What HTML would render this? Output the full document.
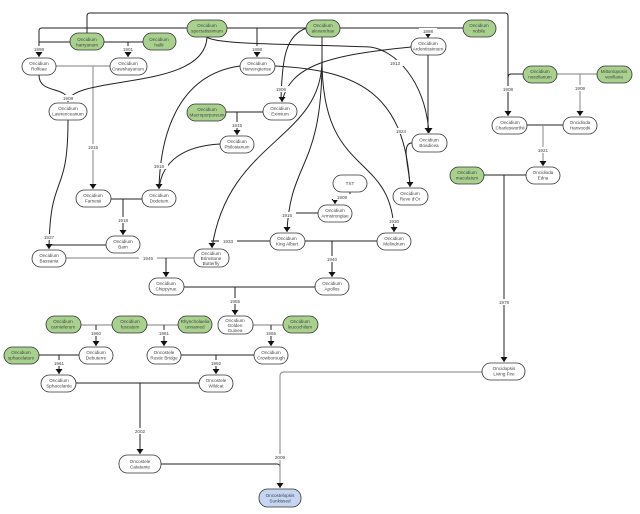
<!DOCTYPE html>
<html><head><meta charset="utf-8"><style>
html,body{margin:0;padding:0;background:#fff;}
svg{display:block;}
text{font-family:"Liberation Sans",sans-serif;font-size:4.6px;fill:#444;text-anchor:middle;}
.l{fill:none;stroke:#222;stroke-width:1;}
.g{fill:none;stroke:#999;stroke-width:1.2;}
.lab{font-size:4.6px;}
</style></head><body>
<svg width="640" height="514" viewBox="0 0 640 514" xmlns="http://www.w3.org/2000/svg">
<defs><marker id="a" markerWidth="6" markerHeight="6" refX="3" refY="5" orient="auto-start-reverse" markerUnits="userSpaceOnUse" viewBox="0 0 6 6"><path d="M0,0 L6,0 L3,6z" fill="#111" transform="rotate(0)"/></marker>
<marker id="b" markerWidth="7" markerHeight="7" refX="3.5" refY="6" orient="0" markerUnits="userSpaceOnUse"><path d="M0,1 L7,1 L3.5,6z" fill="#111"/></marker></defs>

<!-- connectors -->
<g>
<path class="l" d="M87,33 V16 Q87,13 90,13 H505 Q508,13 508,16 V116" marker-end="url(#b)"/>
<path class="l" d="M523,74 H511 Q508,74 508,78"/>
<path class="l" d="M187,28 H42 Q39,28 39,31 V57" marker-end="url(#b)"/>
<path class="l" d="M70,42 H39"/>
<path class="l" d="M104,42 H143 M128,42 V57" marker-end="url(#b)"/>
<path class="g" d="M56,66 H110 M93,66 V189" marker-end="url(#b)"/>
<path class="l" d="M39,75 C39,95 68,85 68,102" marker-end="url(#b)"/>
<path class="l" d="M207,37 C205,90 80,75 68,100"/>
<path class="l" d="M227,28 H307 M257,28 V57" marker-end="url(#b)"/>
<path class="l" d="M207,37 C215,45 300,44 370,47 C395,50 425,80 429,133" marker-end="url(#b)"/>
<path class="l" d="M340,28 H463 M428,28 V38" marker-end="url(#b)"/>
<path class="l" d="M428,55 V133" marker-end="url(#b)"/>
<path class="l" d="M411,47 C330,55 290,65 282,102" marker-end="url(#b)"/>
<path class="l" d="M307,28 C285,35 282,60 281,100"/>
<path class="l" d="M275,66 C360,70 405,95 410,187" marker-end="url(#b)"/>
<path class="l" d="M412,143 C400,143 410,170 410,187"/>
<path class="l" d="M322,37 V75"/>
<path class="l" d="M322,60 C322,140 228,140 212,248" marker-end="url(#b)"/>
<path class="l" d="M322,60 C322,170 290,160 287,232" marker-end="url(#b)"/>
<path class="l" d="M322,60 C322,180 392,150 394,232" marker-end="url(#b)"/>
<path class="l" d="M240,66 C175,75 160,140 159,189" marker-end="url(#b)"/>
<path class="l" d="M220,144 C185,146 162,160 159,189"/>
<path class="l" d="M226,112 H263 M237,112 V135" marker-end="url(#b)"/>
<path class="l" d="M111,199 H142 M123,199 V235" marker-end="url(#b)"/>
<path class="l" d="M68,120 C68,200 50,170 49,249" marker-end="url(#b)"/>
<path class="l" d="M106,245 H49"/>
<path class="g" d="M66,258 H194"/>
<path class="l" d="M166,258 V277" marker-end="url(#b)"/>
<path class="l" d="M270,241 H211"/>
<path class="l" d="M350,192 V196 Q350,198 347,198 H338 Q335,198 335,201 V204" marker-end="url(#b)"/>
<path class="l" d="M318,213 H287"/>
<path class="l" d="M305,241 H377 M332,241 V277" marker-end="url(#b)"/>
<path class="l" d="M184,287 H315 M235,287 V315" marker-end="url(#b)"/>
<path class="g" d="M253,325 H283"/><path class="l" d="M271,325 V346" marker-end="url(#b)"/>
<path class="g" d="M81,325 H112"/><path class="l" d="M96,325 V346" marker-end="url(#b)"/>
<path class="g" d="M147,325 H178"/><path class="l" d="M164,325 V346" marker-end="url(#b)"/>
<path class="l" d="M39,355 H79 M59,355 V374" marker-end="url(#b)"/>
<path class="l" d="M181,355 H254 M216,355 V374" marker-end="url(#b)"/>
<path class="l" d="M76,383 H199 M140,383 V454" marker-end="url(#b)"/>
<path class="l" d="M161,464 H277 Q280,464 280,467"/>
<path class="g" d="M482,372 H284 Q280,372 280,376 V488" marker-end="url(#b)"/>
<path class="g" d="M557,74 H597"/><path class="g" d="M580,74 V116" marker-end="url(#b)"/>
<path class="l" d="M527,125 H563"/><path class="g" d="M543,125 V166" marker-end="url(#b)"/>
<path class="l" d="M484,175 H526 M504,175 V362" marker-end="url(#b)"/>
</g>

<!-- labels -->
<g class="lab">
<rect x="30" y="46" width="18" height="6" fill="#fff"/><text x="39" y="51">1898</text>
<rect x="119" y="46" width="18" height="6" fill="#fff"/><text x="128" y="51">1901</text>
<rect x="248" y="46" width="18" height="6" fill="#fff"/><text x="257" y="51">1898</text>
<rect x="419" y="28" width="18" height="6" fill="#fff"/><text x="428" y="33">1898</text>
<rect x="59" y="95" width="18" height="6" fill="#fff"/><text x="68" y="100">1908</text>
<rect x="84" y="144" width="18" height="6" fill="#fff"/><text x="93" y="149">1915</text>
<rect x="272" y="86" width="18" height="6" fill="#fff"/><text x="281" y="91">1906</text>
<rect x="386" y="60" width="18" height="6" fill="#fff"/><text x="395" y="65">1913</text>
<rect x="392" y="128" width="18" height="6" fill="#fff"/><text x="401" y="133">1924</text>
<rect x="228" y="122" width="18" height="6" fill="#fff"/><text x="237" y="127">1915</text>
<rect x="150" y="163" width="18" height="6" fill="#fff"/><text x="159" y="168">1916</text>
<rect x="114" y="217" width="18" height="6" fill="#fff"/><text x="123" y="222">1918</text>
<rect x="40" y="234" width="18" height="6" fill="#fff"/><text x="49" y="239">1937</text>
<rect x="139" y="255" width="18" height="6" fill="#fff"/><text x="148" y="260">1946</text>
<rect x="219" y="238" width="18" height="6" fill="#fff"/><text x="228" y="243">1933</text>
<rect x="278" y="212" width="18" height="6" fill="#fff"/><text x="287" y="217">1916</text>
<rect x="333" y="194" width="18" height="6" fill="#fff"/><text x="342" y="199">1909</text>
<rect x="385" y="218" width="18" height="6" fill="#fff"/><text x="394" y="223">1930</text>
<rect x="323" y="256" width="18" height="6" fill="#fff"/><text x="332" y="261">1940</text>
<rect x="226" y="298" width="18" height="6" fill="#fff"/><text x="235" y="303">1955</text>
<rect x="262" y="330" width="18" height="6" fill="#fff"/><text x="271" y="335">1965</text>
<rect x="87" y="330" width="18" height="6" fill="#fff"/><text x="96" y="335">1960</text>
<rect x="155" y="330" width="18" height="6" fill="#fff"/><text x="164" y="335">1981</text>
<rect x="50" y="360" width="18" height="6" fill="#fff"/><text x="59" y="365">1961</text>
<rect x="207" y="360" width="18" height="6" fill="#fff"/><text x="216" y="365">1992</text>
<rect x="131" y="428" width="18" height="6" fill="#fff"/><text x="140" y="433">2002</text>
<rect x="271" y="454" width="18" height="6" fill="#fff"/><text x="280" y="459">2009</text>
<rect x="499" y="86" width="18" height="6" fill="#fff"/><text x="508" y="91">1908</text>
<rect x="571" y="85" width="18" height="6" fill="#fff"/><text x="580" y="90">1909</text>
<rect x="534" y="147" width="18" height="6" fill="#fff"/><text x="543" y="152">1921</text>
<rect x="495" y="299" width="18" height="6" fill="#fff"/><text x="504" y="304">1978</text>
</g>

<!-- nodes -->
<g stroke="#333" stroke-width="0.8">
<rect x="70" y="33" width="34" height="17" rx="8.5" fill="#a9d18e"/>
<rect x="143" y="33" width="33" height="17" rx="8.5" fill="#a9d18e"/>
<rect x="187" y="20" width="40" height="17" rx="8.5" fill="#a9d18e"/>
<rect x="306" y="20" width="34" height="17" rx="8.5" fill="#a9d18e"/>
<rect x="463" y="20" width="33" height="17" rx="8.5" fill="#a9d18e"/>
<rect x="22" y="58" width="34" height="17" rx="8.5" fill="#fff"/>
<rect x="110" y="58" width="37" height="17" rx="8.5" fill="#fff"/>
<rect x="240" y="58" width="35" height="17" rx="8.5" fill="#fff"/>
<rect x="411" y="38" width="35" height="17" rx="8.5" fill="#fff"/>
<rect x="49" y="103" width="38" height="17" rx="8.5" fill="#fff"/>
<rect x="263" y="103" width="34" height="17" rx="8.5" fill="#fff"/>
<rect x="187" y="104" width="39" height="17" rx="8.5" fill="#a9d18e"/>
<rect x="220" y="136" width="34" height="17" rx="8.5" fill="#fff"/>
<rect x="412" y="134" width="35" height="18" rx="8.5" fill="#fff"/>
<rect x="523" y="66" width="34" height="17" rx="8.5" fill="#a9d18e"/>
<rect x="597" y="66" width="35" height="17" rx="8.5" fill="#a9d18e"/>
<rect x="492" y="117" width="35" height="17" rx="8.5" fill="#fff"/>
<rect x="563" y="117" width="34" height="17" rx="8.5" fill="#fff"/>
<rect x="526" y="167" width="34" height="17" rx="8.5" fill="#fff"/>
<rect x="450" y="167" width="34" height="17" rx="8.5" fill="#a9d18e"/>
<rect x="393" y="188" width="35" height="17" rx="8.5" fill="#fff"/>
<rect x="333" y="175" width="34" height="17" rx="8.5" fill="#fff"/>
<rect x="318" y="205" width="34" height="17" rx="8.5" fill="#fff"/>
<rect x="377" y="233" width="34" height="17" rx="8.5" fill="#fff"/>
<rect x="76" y="190" width="35" height="17" rx="8.5" fill="#fff"/>
<rect x="142" y="190" width="34" height="17" rx="8.5" fill="#fff"/>
<rect x="106" y="236" width="34" height="17" rx="8.5" fill="#fff"/>
<rect x="270" y="233" width="35" height="17" rx="8.5" fill="#fff"/>
<rect x="32" y="250" width="34" height="17" rx="8.5" fill="#fff"/>
<rect x="194" y="249" width="35" height="18" rx="8.5" fill="#fff"/>
<rect x="315" y="278" width="34" height="17" rx="8.5" fill="#fff"/>
<rect x="149" y="278" width="35" height="17" rx="8.5" fill="#fff"/>
<rect x="218" y="316" width="35" height="18" rx="8.5" fill="#fff"/>
<rect x="283" y="316" width="35" height="17" rx="8.5" fill="#a9d18e"/>
<rect x="46" y="316" width="35" height="17" rx="8.5" fill="#a9d18e"/>
<rect x="112" y="316" width="35" height="17" rx="8.5" fill="#a9d18e"/>
<rect x="178" y="316" width="34" height="17" rx="8.5" fill="#a9d18e"/>
<rect x="79" y="347" width="34" height="17" rx="8.5" fill="#fff"/>
<rect x="147" y="347" width="34" height="17" rx="8.5" fill="#fff"/>
<rect x="254" y="347" width="34" height="17" rx="8.5" fill="#fff"/>
<rect x="4" y="347" width="35" height="17" rx="8.5" fill="#a9d18e"/>
<rect x="41" y="375" width="35" height="17" rx="8.5" fill="#fff"/>
<rect x="199" y="375" width="34" height="17" rx="8.5" fill="#fff"/>
<rect x="119" y="455" width="42" height="18" rx="8.5" fill="#fff"/>
<rect x="259" y="489" width="42" height="18" rx="8.5" fill="#c5d6f2"/>
<rect x="482" y="363" width="43" height="17" rx="8.5" fill="#fff"/>
</g>
<g>
<text x="87" y="41">Oncidium</text><text x="87" y="46.5">harryanum</text>
<text x="159" y="41">Oncidium</text><text x="159" y="46.5">hallii</text>
<text x="207" y="27">Oncidium</text><text x="207" y="32.5">spectatissimum</text>
<text x="323" y="27">Oncidium</text><text x="323" y="32.5">alexandrae</text>
<text x="479" y="27">Oncidium</text><text x="479" y="32.5">nobile</text>
<text x="39" y="65">Oncidium</text><text x="39" y="70.5">Rolfeae</text>
<text x="128" y="65">Oncidium</text><text x="128" y="70.5">Crawshayanum</text>
<text x="257" y="65">Oncidium</text><text x="257" y="70.5">Harvengtense</text>
<text x="428" y="45">Oncidium</text><text x="428" y="50.5">Ardentissimum</text>
<text x="68" y="110">Oncidium</text><text x="68" y="115.5">Lawrenceanum</text>
<text x="280" y="110">Oncidium</text><text x="280" y="115.5">Eximium</text>
<text x="207" y="111">Oncidium</text><text x="207" y="116.5">Macropurpureum</text>
<text x="237" y="143">Oncidium</text><text x="237" y="148.5">Philosianum</text>
<text x="429" y="141.5">Oncidium</text><text x="429" y="147">Boadicea</text>
<text x="540" y="73">Oncidium</text><text x="540" y="78.5">noezlianum</text>
<text x="614" y="73">Miltonioposis</text><text x="614" y="78.5">vexillaria</text>
<text x="510" y="124">Oncidium</text><text x="510" y="129.5">Charlesworthii</text>
<text x="580" y="124">Oncidioda</text><text x="580" y="129.5">Harwoodii</text>
<text x="543" y="174">Oncidioda</text><text x="543" y="179.5">Edna</text>
<text x="467" y="174">Oncidium</text><text x="467" y="179.5">maculatum</text>
<text x="410" y="195">Oncidium</text><text x="410" y="200.5">Reve d'Or</text>
<text x="350" y="185">TXT</text>
<text x="335" y="212">Oncidium</text><text x="335" y="217.5">Armstrongiae</text>
<text x="394" y="240">Oncidium</text><text x="394" y="245.5">Melindrum</text>
<text x="93" y="197">Oncidium</text><text x="93" y="202.5">Farnesii</text>
<text x="159" y="197">Oncidium</text><text x="159" y="202.5">Dodetum</text>
<text x="123" y="243">Oncidium</text><text x="123" y="248.5">Bam</text>
<text x="287" y="240">Oncidium</text><text x="287" y="245.5">King Albert</text>
<text x="49" y="257">Oncidium</text><text x="49" y="262.5">Bassania</text>
<text x="211" y="255">Oncidium</text><text x="211" y="260">Brimstone</text><text x="211" y="265">Butterfly</text>
<text x="332" y="285">Oncidium</text><text x="332" y="290.5">Apollos</text>
<text x="166" y="285">Oncidium</text><text x="166" y="290.5">Chippyrue</text>
<text x="235" y="322">Oncidium</text><text x="235" y="327">Golden</text><text x="235" y="332">Guinea</text>
<text x="300" y="323">Oncidium</text><text x="300" y="328.5">leucochilum</text>
<text x="63" y="323">Oncidium</text><text x="63" y="328.5">carnieferum</text>
<text x="130" y="323">Oncidium</text><text x="130" y="328.5">fuscatum</text>
<text x="195" y="323">Rhyncholaelia</text><text x="195" y="328.5">unnamed</text>
<text x="96" y="354">Oncidium</text><text x="96" y="359.5">Debuterre</text>
<text x="164" y="354">Oncostele</text><text x="164" y="359.5">Rustic Bridge</text>
<text x="271" y="354">Oncidium</text><text x="271" y="359.5">Crowborough</text>
<text x="21" y="354">Oncidium</text><text x="21" y="359.5">sphacelatum</text>
<text x="59" y="382">Oncidium</text><text x="59" y="387.5">Sphacelante</text>
<text x="216" y="382">Oncostele</text><text x="216" y="387.5">Wildcat</text>
<text x="140" y="463">Oncostele</text><text x="140" y="468.5">Catatante</text>
<text x="280" y="497">Oncostelopsis</text><text x="280" y="502.5">Sunkissed</text>
<text x="504" y="370">Oncidopsis</text><text x="504" y="375.5">Living Fire</text>
</g>
</svg>
</body></html>
